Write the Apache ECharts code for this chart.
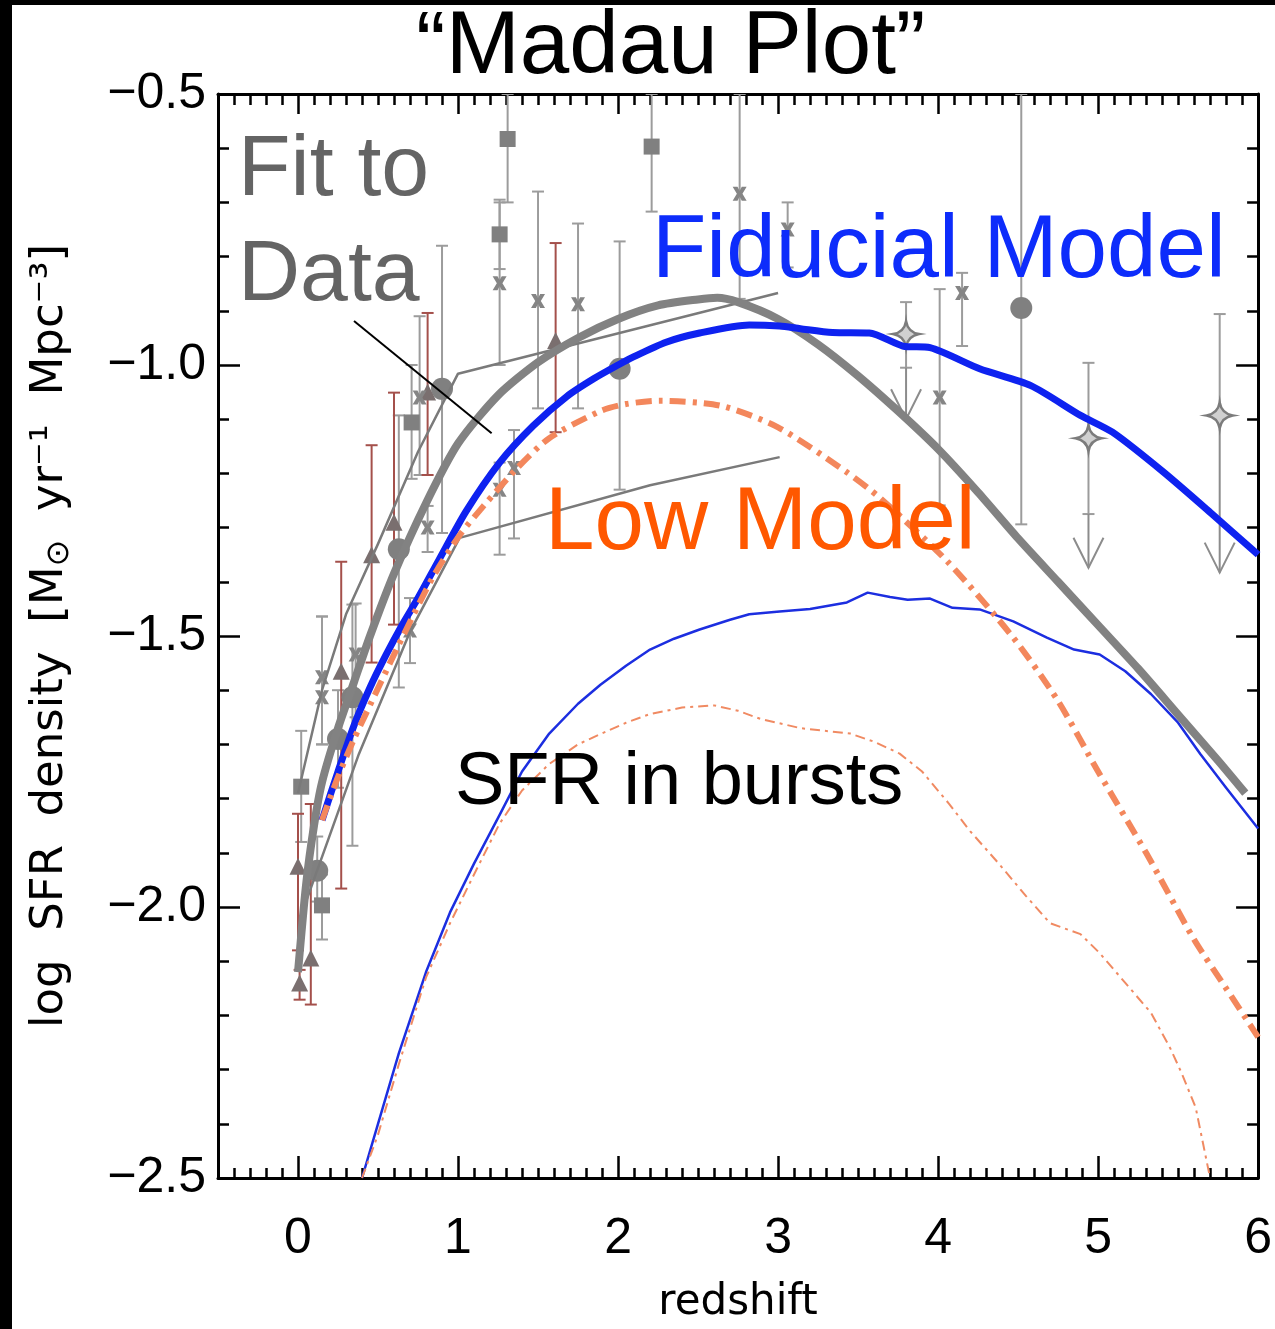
<!DOCTYPE html>
<html><head><meta charset="utf-8">
<script src="https://cdn.jsdelivr.net/npm/echarts@6/dist/echarts.min.js"></script>
<style>html,body{margin:0;padding:0;background:#fff}#c{width:1275px;height:1329px}</style>
</head><body><div id="c"></div>
<script>
// ---- tick labels ----
const xTickValues = [0, 1, 2, 3, 4, 5, 6];
const yTickValues = [-2.5, -2.0, -1.5, -1.0, -0.5];

// ---- curves ----
const fitZ = [0.0,0.05,0.1,0.15,0.25,0.35,0.45,0.6,0.8,1.0,1.25,1.5,1.75,2.0,2.25,2.5,2.62,2.75,3.0,3.25,3.5,3.75,4.0,4.25,4.5,4.75,5.0,5.25,5.5,5.75,5.92];
const fitLogSFR = [-2.12,-1.96,-1.85,-1.77,-1.67,-1.585,-1.50,-1.385,-1.255,-1.145,-1.056,-0.995,-0.95,-0.915,-0.89,-0.879,-0.876,-0.884,-0.915,-0.962,-1.02,-1.085,-1.155,-1.235,-1.32,-1.40,-1.48,-1.56,-1.645,-1.73,-1.79];

const fitUpperZ = [0.0,0.15,0.3,0.5,0.75,1.0,3.0];
const fitUpperLogSFR = [-1.79,-1.60,-1.46,-1.33,-1.16,-1.016,-0.867];
const fitLowerZ = [0.05,0.38,0.70,1.01,2.2,3.01];
const fitLowerLogSFR = [-1.99,-1.718,-1.492,-1.319,-1.222,-1.170];

const fiducialZ = [0.15,0.25,0.35,0.45,0.55,0.65,0.75,0.88,1.05,1.26,1.47,1.68,1.85,2.0,2.09,2.3,2.51,2.82,3.01,3.14,3.34,3.57,3.78,3.95,4.26,4.58,4.89,5.09,5.41,5.72,6.0];
const fiducialLogSFR = [-1.84,-1.75,-1.665,-1.595,-1.535,-1.48,-1.43,-1.36,-1.27,-1.18,-1.112,-1.058,-1.025,-1.0,-0.986,-0.958,-0.941,-0.926,-0.928,-0.933,-0.94,-0.941,-0.965,-0.968,-1.007,-1.038,-1.093,-1.124,-1.198,-1.277,-1.35];

const lowZ = [0.15,0.25,0.35,0.43,0.63,0.84,1.01,1.16,1.37,1.57,1.89,2.05,2.26,2.64,3.0,3.43,3.64,4.06,4.47,4.75,5.0,5.3,5.6,5.8,6.0];
const lowLogSFR = [-1.84,-1.76,-1.69,-1.64,-1.516,-1.393,-1.314,-1.26,-1.19,-1.135,-1.085,-1.072,-1.066,-1.075,-1.115,-1.198,-1.246,-1.363,-1.503,-1.62,-1.75,-1.9,-2.06,-2.15,-2.24];

const burstFidZ = [0.40,0.5,0.63,0.8,0.95,1.1,1.26,1.4,1.57,1.75,1.89,2.05,2.2,2.35,2.51,2.7,2.82,3.01,3.2,3.43,3.56,3.7,3.81,3.95,4.09,4.26,4.47,4.68,4.85,5.01,5.17,5.33,5.5,5.64,5.8,6.0];
const burstFidLogSFR = [-2.5,-2.40,-2.27,-2.12,-2.01,-1.92,-1.83,-1.75,-1.68,-1.625,-1.59,-1.555,-1.525,-1.505,-1.488,-1.47,-1.46,-1.455,-1.45,-1.438,-1.42,-1.428,-1.433,-1.431,-1.448,-1.451,-1.473,-1.503,-1.525,-1.534,-1.565,-1.607,-1.66,-1.718,-1.78,-1.855];

const burstLowZ = [0.40,0.5,0.63,0.8,0.95,1.1,1.26,1.4,1.57,1.75,1.89,2.05,2.2,2.4,2.6,2.75,2.89,3.14,3.45,3.6,3.76,3.9,4.07,4.2,4.38,4.55,4.70,4.89,5.01,5.17,5.33,5.45,5.52,5.61,5.70];
const burstLowLogSFR = [-2.5,-2.42,-2.29,-2.13,-2.03,-1.94,-1.846,-1.785,-1.736,-1.70,-1.681,-1.66,-1.644,-1.632,-1.628,-1.638,-1.653,-1.67,-1.68,-1.695,-1.717,-1.75,-1.81,-1.86,-1.92,-1.98,-2.03,-2.05,-2.085,-2.14,-2.195,-2.26,-2.305,-2.37,-2.5];

const pointerZ = [0.35, 1.21];
const pointerLogSFR = [-0.919, -1.126];

// ---- data points: [z, logSFR, errLow, errHigh] ----
const squarePts = [
  [0.02,-1.778,-1.88,-1.675],[0.15,-1.997,-2.06,-1.94],[0.71,-1.106,-1.21,-1.0],
  [1.31,-0.583,-0.70,-0.5],[1.26,-0.759,-0.823,-0.695],[2.21,-0.597,-0.717,-0.5]
];
const circlePts = [
  [0.12,-1.933,-1.99,-1.87],[0.25,-1.69,-1.78,-1.60],[0.34,-1.613,-1.887,-1.442],
  [0.63,-1.34,-1.595,-1.093],[0.90,-1.044,-1.31,-0.78],[2.01,-1.007,-1.23,-0.772],
  [4.52,-0.895,-1.294,-0.5]
];
const trianglePts = [
  [0.0,-1.925,-2.08,-1.828],[0.01,-2.14,-2.171,-2.116],[0.08,-2.094,-2.18,-1.81],
  [0.27,-1.565,-1.966,-1.363],[0.46,-1.35,-1.549,-1.148],[0.60,-1.29,-1.479,-1.051],
  [0.81,-1.05,-1.203,-0.904],[1.61,-0.955,-1.124,-0.775]
];
const crossPts = [
  [0.15,-1.576,-1.70,-1.464],[0.15,-1.613,-1.70,-1.464],[0.36,-1.534,-1.65,-1.44],
  [0.70,-1.49,-1.55,-1.43],[0.76,-1.06,-1.203,-0.91],[0.81,-1.30,-1.345,-1.26],
  [1.26,-1.23,-1.35,-1.18],[1.35,-1.19,-1.32,-1.12],[1.26,-0.849,-1.0,-0.70],
  [1.50,-0.882,-1.08,-0.68],[1.75,-0.888,-1.08,-0.739],[2.76,-0.684,-0.878,-0.5],
  [3.06,-0.75,-0.82,-0.70],[4.01,-1.06,-1.259,-0.86],[4.15,-0.867,-0.965,-0.83]
];
const starPts = [
  [3.80,-0.943,-1.005,-0.884],[4.94,-1.135,-1.275,-0.996],[5.76,-1.093,-1.093,-0.906]
];
// upper limits: [z, from, arrow tip]
const limitArrows = [[3.80,-1.005,-1.10],[4.94,-1.275,-1.374],[5.76,-1.093,-1.383]];

// ---- helpers ----
const zip = (a, b) => a.map((v, i) => [v, b[i]]);
const fmt = v => (v < 0 ? '\u2212' : '') + Math.abs(v).toFixed(1);
const minorX = [];
for (let i = -4; i <= 59; i++) { if (i % 10 !== 0) minorX.push(i / 10); }

const FONT = 'Liberation Sans';
const GRAY_BAR = '#9c9c9c', RED_BAR = '#a4504b', MARK = '#808080';

function errSeries(pts, color) {
  return {
    type: 'custom', xAxisIndex: 0, yAxisIndex: 0, z: 2, clip: true, silent: true,
    data: pts.map(p => [p[0], p[1], p[2], p[3]]),
    encode: { x: 0, y: [1, 2, 3] },
    renderItem: (params, api) => {
      const x = api.value(0), lo = api.value(2), hi = api.value(3);
      const a = api.coord([x, lo]), b = api.coord([x, hi]);
      const cw = 6, st = { stroke: color, lineWidth: 2 };
      return { type: 'group', children: [
        { type: 'line', shape: { x1: a[0], y1: a[1], x2: b[0], y2: b[1] }, style: st },
        { type: 'line', shape: { x1: a[0] - cw, y1: a[1], x2: a[0] + cw, y2: a[1] }, style: st },
        { type: 'line', shape: { x1: b[0] - cw, y1: b[1], x2: b[0] + cw, y2: b[1] }, style: st }
      ]};
    }
  };
}
function arrowSeries(arr) {
  return {
    type: 'custom', xAxisIndex: 0, yAxisIndex: 0, z: 2, silent: true,
    data: arr, encode: { x: 0, y: [1, 2] },
    renderItem: (params, api) => {
      const x = api.value(0);
      const a = api.coord([x, api.value(1)]), b = api.coord([x, api.value(2)]);
      const st = { stroke: '#8c8c8c', lineWidth: 2, fill: null };
      return { type: 'group', children: [
        { type: 'line', shape: { x1: a[0], y1: a[1], x2: b[0], y2: b[1] }, style: st },
        { type: 'polyline', shape: { points: [[b[0] - 15, b[1] - 30], [b[0], b[1]], [b[0] + 15, b[1] - 30]] }, style: st }
      ]};
    }
  };
}
function markSeries(pts, symbol, size, color, border) {
  return {
    type: 'scatter', xAxisIndex: 0, yAxisIndex: 0, z: 3, silent: true,
    symbol, symbolSize: size,
    itemStyle: { color, borderColor: border || color, borderWidth: border ? 2.5 : 0, opacity: 1 },
    data: pts.map(p => [p[0], p[1]])
  };
}
function lineSeries(z, y, color, width, type, smooth, zz) {
  return {
    type: 'line', xAxisIndex: 0, yAxisIndex: 0, z: zz || 5, silent: true,
    data: zip(z, y), showSymbol: false, symbol: 'none', smooth: smooth,
    lineStyle: { color, width, type, cap: 'butt', join: 'round' }
  };
}

const axisLineStyle = { color: '#000', width: 3 };
const tickStyle = { color: '#000', width: 2.5 };

const xAxisBase = { type: 'value', min: -0.5, max: 6, gridIndex: 0, splitLine: { show: false } };
const yAxisBase = { type: 'value', min: -2.5, max: -0.5, interval: 0.5, splitLine: { show: false }, minorSplitLine: { show: false } };

const option = {
  backgroundColor: '#fff',
  animation: false,
  title: {
    text: '\u201CMadau Plot\u201D', left: 416, top: 4,
    textStyle: { fontFamily: FONT, fontSize: 89, fontWeight: 'normal', color: '#000' },
    padding: 0
  },
  grid: { left: 218, right: 15, top: 94, bottom: 142, containLabel: false },
  xAxis: [
    Object.assign({}, xAxisBase, {
      position: 'bottom',
      axisLine: { show: true, onZero: false, lineStyle: axisLineStyle },
      axisTick: { show: true, inside: true, length: 22, customValues: xTickValues, lineStyle: tickStyle },
      axisLabel: { show: true, customValues: xTickValues, margin: 36, fontFamily: FONT, fontSize: 50, color: '#000', formatter: v => String(v) },
      name: 'redshift', nameLocation: 'middle', nameGap: 104,
      nameTextStyle: { fontFamily: 'DejaVu Sans', fontSize: 42, color: '#000' }
    }),
    Object.assign({}, xAxisBase, {
      position: 'bottom',
      axisLine: { show: false, onZero: false },
      axisTick: { show: true, inside: true, length: 10, customValues: minorX, lineStyle: tickStyle },
      axisLabel: { show: false }
    }),
    Object.assign({}, xAxisBase, {
      position: 'top',
      axisLine: { show: true, onZero: false, lineStyle: axisLineStyle },
      axisTick: { show: true, inside: true, length: 20, customValues: xTickValues, lineStyle: tickStyle },
      axisLabel: { show: false }
    }),
    Object.assign({}, xAxisBase, {
      position: 'top',
      axisLine: { show: false, onZero: false },
      axisTick: { show: true, inside: true, length: 11, customValues: minorX, lineStyle: tickStyle },
      axisLabel: { show: false }
    })
  ],
  yAxis: [
    Object.assign({}, yAxisBase, {
      position: 'left',
      axisLine: { show: true, onZero: false, lineStyle: axisLineStyle },
      axisTick: { show: true, inside: true, length: 22, lineStyle: tickStyle },
      minorTick: { show: true, splitNumber: 5, length: 11, lineStyle: tickStyle },
      axisLabel: { show: true, margin: 12, fontFamily: FONT, fontSize: 50, color: '#000', formatter: fmt },
      name: 'log  SFR  density  [M{sun|\u2299}  yr\u207B\u00B9  Mpc\u207B\u00B3]',
      nameLocation: 'middle', nameRotate: 90, nameGap: 142,
      nameTextStyle: { fontFamily: 'DejaVu Sans', fontSize: 45, color: '#000',
        rich: { sun: { fontFamily: 'DejaVu Sans', fontSize: 32, color: '#000', padding: [20, 0, 0, 0] } } }
    }),
    Object.assign({}, yAxisBase, {
      position: 'right',
      axisLine: { show: true, onZero: false, lineStyle: axisLineStyle },
      axisTick: { show: true, inside: true, length: 22, lineStyle: tickStyle },
      minorTick: { show: true, splitNumber: 5, length: 11, lineStyle: tickStyle },
      axisLabel: { show: false }
    })
  ],
  series: [
    errSeries(squarePts, GRAY_BAR),
    errSeries(circlePts, GRAY_BAR),
    errSeries(crossPts, GRAY_BAR),
    errSeries(starPts, GRAY_BAR),
    errSeries(trianglePts, RED_BAR),
    arrowSeries(limitArrows),
    markSeries(squarePts, 'rect', 16, MARK),
    markSeries(circlePts, 'circle', 22, MARK),
    markSeries(trianglePts, 'triangle', 17, '#7a6f6f'),
    markSeries(crossPts, 'path://M0,0L3.5,0L5,3L6.5,0L10,0L7,5L10,10L6.5,10L5,7L3.5,10L0,10L3,5Z', 14, '#858585'),
    markSeries(starPts, 'path://M10,0C11,6 14,9 20,10C14,11 11,14 10,20C9,14 6,11 0,10C6,9 9,6 10,0Z', 26, '#d0d0d0', '#7c7c7c'),
    lineSeries(fitUpperZ, fitUpperLogSFR, '#7a7a7a', 2.5, 'solid', false, 4),
    lineSeries(fitLowerZ, fitLowerLogSFR, '#7a7a7a', 2.5, 'solid', false, 4),
    lineSeries(burstFidZ, burstFidLogSFR, '#1c2ee0', 2.5, 'solid', false, 5),
    lineSeries(burstLowZ, burstLowLogSFR, '#f08a62', 2, [10, 5, 3, 5], false, 5),
    lineSeries(fitZ, fitLogSFR, '#828282', 8, 'solid', 0.25, 6),
    lineSeries(fiducialZ, fiducialLogSFR, '#0e22f0', 7, 'solid', 0.25, 7),
    lineSeries(lowZ, lowLogSFR, '#f3875c', 6, [16, 7, 4, 7], 0.25, 8),
    lineSeries(pointerZ, pointerLogSFR, '#000', 2, 'solid', false, 9)
  ],
  graphic: [
    { type: 'rect', left: 0, top: 0, shape: { width: 12, height: 1329 }, style: { fill: '#000' }, z: 100 },
    { type: 'rect', left: 0, top: 0, shape: { width: 1275, height: 5 }, style: { fill: '#000' }, z: 100 },
    { type: 'text', x: 238, y: 171, z: 100, style: { text: 'Fit to', fontFamily: FONT, fontSize: 86, fill: '#646464', textVerticalAlign: 'middle' } },
    { type: 'text', x: 238, y: 276, z: 100, style: { text: 'Data', fontFamily: FONT, fontSize: 86, fill: '#646464', textVerticalAlign: 'middle' } },
    { type: 'text', x: 652, y: 252, z: 100, style: { text: 'Fiducial Model', fontFamily: FONT, fontSize: 89, fill: '#0d2cfb', textVerticalAlign: 'middle' } },
    { type: 'text', x: 545, y: 524, z: 100, style: { text: 'Low Model', fontFamily: FONT, fontSize: 89, fill: '#ff5800', textVerticalAlign: 'middle' } },
    { type: 'text', x: 455, y: 784, z: 100, style: { text: 'SFR in bursts', fontFamily: FONT, fontSize: 74, fill: '#000', textVerticalAlign: 'middle' } }
  ]
};

const chart = echarts.init(document.getElementById('c'), null, { renderer: 'canvas', width: 1275, height: 1329 });
chart.setOption(option);
</script>
</body></html>
